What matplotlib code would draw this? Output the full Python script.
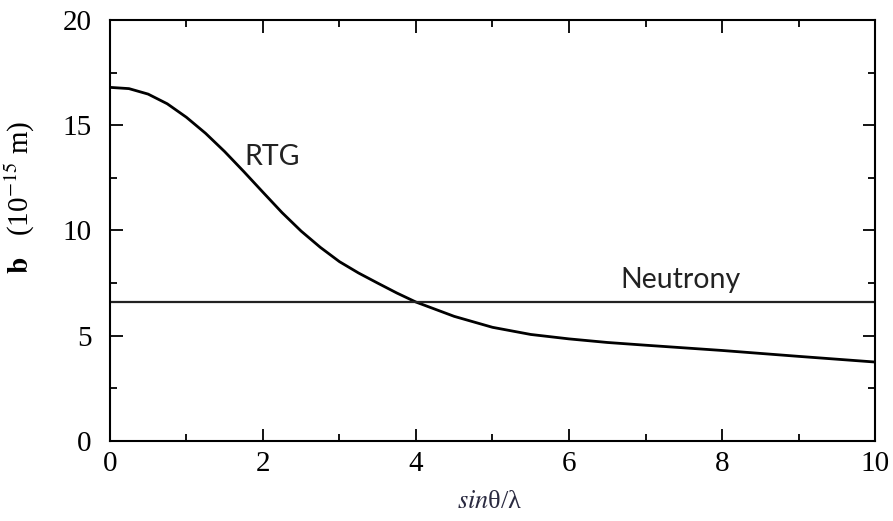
import matplotlib.pyplot as plt
from matplotlib.ticker import MultipleLocator

# values
x_rtg = [0, 0.25, 0.5, 0.75, 1.0, 1.25, 1.5, 1.75, 2.0, 2.25, 2.5, 2.75, 3.0, 3.25,
         3.5, 3.75, 4.0, 4.5, 5.0, 5.5, 6.0, 6.5, 7.0, 8.0, 9.0, 10.0]
y_rtg = [16.8, 16.74, 16.48, 16.02, 15.38, 14.62, 13.75, 12.8, 11.82, 10.85, 9.97, 9.2,
         8.52, 7.98, 7.5, 7.03, 6.6, 5.92, 5.4, 5.06, 4.85, 4.68, 4.55, 4.3, 4.02, 3.75]
b_neutron = 6.62

plt.rcParams['font.family'] = ['Liberation Serif', 'DejaVu Serif']
plt.rcParams['mathtext.fontset'] = 'stix'

fig = plt.figure(figsize=(8.93, 5.21), dpi=100)
ax = fig.add_axes([0.123, 0.1536, 0.857, 0.808])

ax.plot(x_rtg, y_rtg, color='black', lw=2.0)
ax.axhline(b_neutron, color='#222222', lw=1.6)

ax.set_xlim(0, 10)
ax.set_ylim(0, 20)
ax.xaxis.set_major_locator(MultipleLocator(2))
ax.xaxis.set_minor_locator(MultipleLocator(1))
ax.yaxis.set_major_locator(MultipleLocator(5))
ax.yaxis.set_minor_locator(MultipleLocator(2.5))
ax.tick_params(which='both', direction='in', top=True, right=True, width=1.3)
ax.tick_params(which='major', length=9)
ax.tick_params(which='minor', length=5)
ax.tick_params(axis='x', labelsize=21, pad=7)
ax.tick_params(axis='y', labelsize=21, pad=13)
for s in ax.spines.values():
    s.set_linewidth(1.5)

ax.set_ylabel(r'$\mathbf{b}$   (10$^{-15}$ m)', fontsize=21)
ax.yaxis.set_label_coords(-0.095, 0.58)
ax.set_xlabel(r'$\mathit{sin}$θ/λ', fontsize=19, color='#2a2a40')
ax.xaxis.set_label_coords(0.497, -0.118)

ax.text(1.76, 13.1, 'RTG', family='Lato', fontsize=20.5, color='#222222')
ax.text(6.67, 7.27, 'Neutrony', family='Lato', fontsize=20.5, color='#222222')

fig.savefig('out.png', dpi=100)
